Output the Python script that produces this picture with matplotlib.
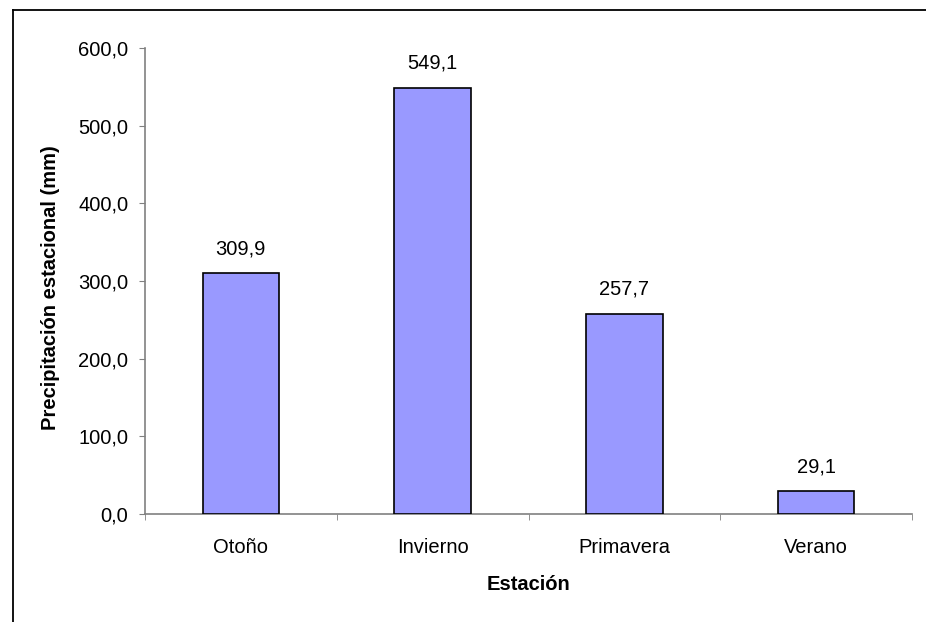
import matplotlib
matplotlib.use("Agg")
import matplotlib.pyplot as plt
from matplotlib.lines import Line2D
from matplotlib.ticker import FixedLocator, FuncFormatter

estaciones = ["Otoño", "Invierno", "Primavera", "Verano"]
precipitacion = [309.9, 549.1, 257.7, 29.1]
yticks = [0, 100, 200, 300, 400, 500, 600]

plt.rcParams["font.family"] = ["Liberation Sans", "DejaVu Sans"]
FS = 14.5

W, H = 926, 622
fig = plt.figure(figsize=(W / 100, H / 100), dpi=100)
ax = fig.add_axes([145 / W, 1 - 514 / H, (912 - 145) / W, (514 - 48) / H])

x = range(len(estaciones))
ax.bar(x, precipitacion, width=0.4, color="#9999FF", edgecolor="black", linewidth=1.2, zorder=3)

def fmt(v):
    return f"{v:.1f}".replace(".", ",")

for xi, v in zip(x, precipitacion):
    ax.annotate(fmt(v), (xi, v), xytext=(0, 11), textcoords="offset points",
                ha="center", va="bottom", fontsize=FS)

ax.set_xlim(-0.5, len(estaciones) - 0.5)
ax.set_ylim(0, 600)
ax.set_yticks(yticks)
ax.yaxis.set_major_formatter(FuncFormatter(lambda v, p: fmt(v)))

ax.set_xticks(list(x))
ax.set_xticklabels(estaciones)
ax.xaxis.set_minor_locator(FixedLocator([i - 0.5 for i in range(len(estaciones) + 1)]))
ax.tick_params(axis="x", which="major", length=0, pad=17, labelsize=FS)
ax.tick_params(axis="x", which="minor", length=4, color="#808080", direction="out")
ax.tick_params(axis="y", length=4, color="#808080", direction="out", pad=8, labelsize=FS)

for s in ("top", "right"):
    ax.spines[s].set_visible(False)
for s in ("left", "bottom"):
    ax.spines[s].set_color("#808080")
    ax.spines[s].set_linewidth(1.2)

ax.set_xlabel("Estación", fontsize=FS, fontweight="bold")
ax.set_ylabel("Precipitación estacional (mm)", fontsize=FS, fontweight="bold")
# axis title placement in pixel terms relative to the plot box
ax.xaxis.set_label_coords((528 - 145) / (912 - 145), -(585 - 514) / (514 - 48))
ax.yaxis.set_label_coords(-(145 - 51) / (912 - 145), (514 - 288) / (514 - 48))
ax.xaxis.label.set_va("center")
ax.yaxis.label.set_va("center")

# chart area frame (top and left edges)
fig.add_artist(Line2D([12.5 / W, 1.0], [1 - 9.5 / H, 1 - 9.5 / H],
                      transform=fig.transFigure, color="black", linewidth=1.3))
fig.add_artist(Line2D([12.5 / W, 12.5 / W], [0.0, 1 - 9.5 / H],
                      transform=fig.transFigure, color="black", linewidth=1.3))

fig.savefig("out.png", dpi=100)
